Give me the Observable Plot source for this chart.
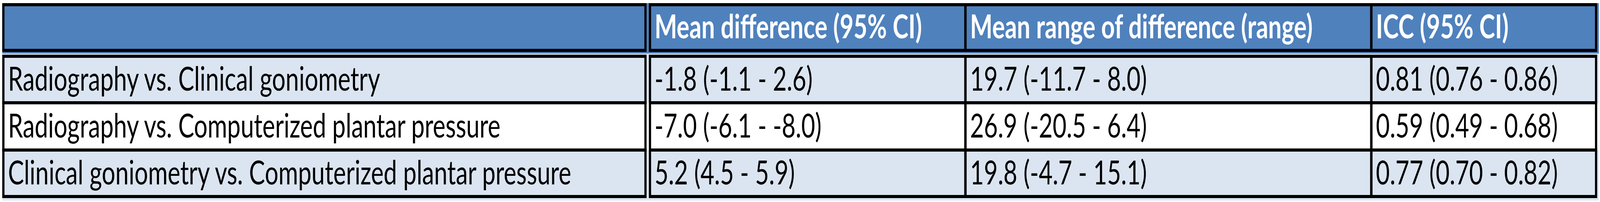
<!DOCTYPE html>
<html>
<head>
<meta charset="utf-8">
<script src="https://cdn.jsdelivr.net/npm/d3@7"></script>
<script src="https://cdn.jsdelivr.net/npm/@observablehq/plot@0.6"></script>
<style>
  html, body { margin: 0; padding: 0; background: #fff; overflow: hidden; }
  /* the table is laid out in 5716x517 units and stretched to the window */
  #table-chart svg { display: block; max-width: none !important; width: 100vw; height: 517px; }
</style>
</head>
<body>
<div id="table-chart"></div>
<script>
/*
 * Agreement table (three measurement methods compared pairwise) drawn as a
 * Plot chart: cell fills and borders are rects, cell contents are text marks.
 * Both scales are linear in the source image's pixel units so the grid lines
 * land where the original table had them.
 */

// ---- data ----
const headers = ["", "Mean difference (95% CI)", "Mean range of difference (range)", "ICC (95% CI)"];
const comparisons = [
  "Radiography vs. Clinical goniometry",
  "Radiography vs. Computerized plantar pressure",
  "Clinical goniometry vs. Computerized plantar pressure",
];
const meanDifference = ["-1.8 (-1.1 - 2.6)", "-7.0 (-6.1 - -8.0)", "5.2 (4.5 - 5.9)"];
const meanRange = ["19.7 (-11.7 - 8.0)", "26.9 (-20.5 - 6.4)", "19.8 (-4.7 - 15.1)"];
const icc = ["0.81 (0.76 - 0.86)", "0.59 (0.49 - 0.68)", "0.77 (0.70 - 0.82)"];

// ---- layout (source pixel units, border centre lines) ----
const W = 5716, H = 517;
const BORDER = 8;
const COL_EDGES = [12, 2306, 3449, 4899, 5702]; // first col boundary is doubled
const DOUBLE_GAP = 16;                          // second line of the double rule
const HEAD_Y = [12, 129];
const ROW_EDGES = [144, 263, 384, 503];
const FILL_RIGHT = 5712;

const HEAD_BLUE = "#4f81bd";
const ROW_LIGHT = "#dbe5f1";
const FONT = "Lato, 'Open Sans', sans-serif";
const HEAD_SIZE = 85;
const BODY_SIZE = 85.5;
const TEXT_PAD = 16;

function colLeft(c) {
  return c === 1 ? COL_EDGES[1] + DOUBLE_GAP : COL_EDGES[c];
}

const columns = [comparisons, meanDifference, meanRange, icc];

// cells
const headCells = headers.map((label, c) => ({
  x1: colLeft(c), x2: COL_EDGES[c + 1], y1: HEAD_Y[0], y2: HEAD_Y[1], label,
}));
const bodyCells = [];
comparisons.forEach((_, r) => {
  columns.forEach((col, c) => {
    bodyCells.push({
      x1: colLeft(c), x2: COL_EDGES[c + 1],
      y1: ROW_EDGES[r], y2: ROW_EDGES[r + 1],
      label: col[r], row: r,
    });
  });
});

// row background bands (fill runs a little past the black rules, as in the source)
const rowBands = comparisons.map((_, r) => ({
  y1: r === 0 ? HEAD_Y[1] + BORDER : ROW_EDGES[r],
  y2: r === comparisons.length - 1 ? ROW_EDGES[r + 1] + 10 : ROW_EDGES[r + 1],
  fill: r % 2 === 1 ? "#ffffff" : ROW_LIGHT,
}));

const plot = Plot.plot({
  width: W,
  height: H,
  margin: 0,
  x: { type: "linear", domain: [0, W], range: [0, W], axis: null },
  y: { type: "linear", domain: [0, H], range: [0, H], axis: null },
  style: { background: "#ffffff" },
  marks: [
    // header band
    Plot.rect([{ x1: COL_EDGES[0] - BORDER / 2, x2: FILL_RIGHT, y1: HEAD_Y[0] - BORDER / 2, y2: HEAD_Y[1] + BORDER / 2 + 4 }], {
      x1: "x1", x2: "x2", y1: "y1", y2: "y2", fill: HEAD_BLUE,
    }),
    // body bands
    Plot.rect(rowBands, {
      x1: COL_EDGES[0] - BORDER / 2, x2: FILL_RIGHT, y1: "y1", y2: "y2", fill: "fill",
    }),
    // cell rules
    Plot.rect(headCells, {
      x1: "x1", x2: "x2", y1: "y1", y2: "y2",
      fill: "none", stroke: "#000", strokeWidth: BORDER,
    }),
    Plot.rect(bodyCells, {
      x1: "x1", x2: "x2", y1: "y1", y2: "y2",
      fill: "none", stroke: "#000", strokeWidth: BORDER,
    }),
    // header text
    Plot.text(headCells.filter((d) => d.label), {
      x: (d) => d.x1 + TEXT_PAD, y: (d) => (d.y1 + d.y2) / 2, text: "label",
      textAnchor: "start", lineAnchor: "middle", dy: 0,
      fill: "#ffffff", fontSize: HEAD_SIZE, fontWeight: "bold", fontFamily: FONT,
    }),
    // body text
    Plot.text(bodyCells, {
      x: (d) => d.x1 + TEXT_PAD, y: (d) => (d.y1 + d.y2) / 2, text: "label",
      textAnchor: "start", lineAnchor: "middle", dy: 1,
      fill: "#000000", fontSize: BODY_SIZE, fontFamily: FONT,
      fontWeight: (d) => (d.row === 1 ? 600 : 400),
    }),
  ],
});

// the window may be narrower than the source image: stretch to fit it
plot.setAttribute("preserveAspectRatio", "none");

const container = document.getElementById("table-chart");
container.innerHTML = "";
container.appendChild(plot);
</script>
</body>
</html>
